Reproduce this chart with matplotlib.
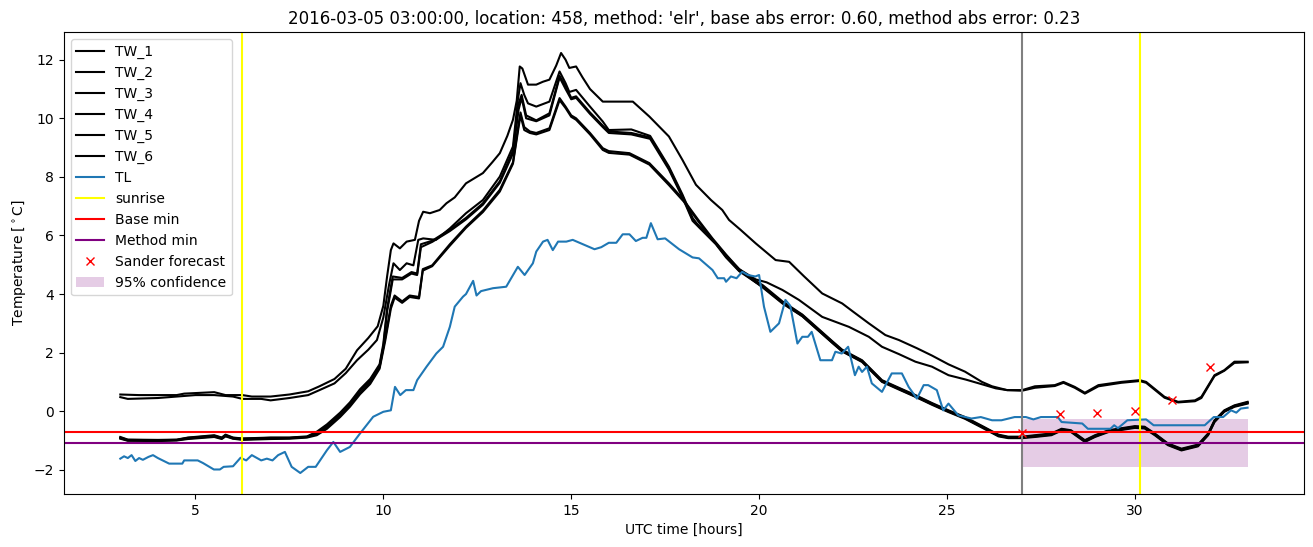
import matplotlib
matplotlib.use("Agg")
import matplotlib.pyplot as plt

# TW sensor temperatures (time in UTC hours, value in degC)
tw1_t = [3.0, 3.5, 4.0, 4.5, 4.7, 5.5, 5.8, 6.25, 6.5, 7.0, 7.5, 8.0, 8.3, 8.7, 9.0, 9.3, 9.6, 9.85,
         10.0, 10.1, 10.2, 10.27, 10.44, 10.62, 10.84, 10.95, 11.06, 11.24, 11.5, 11.68, 11.9, 12.2,
         12.65, 12.9, 13.1, 13.3, 13.45, 13.55, 13.63, 13.7, 13.85, 14.07, 14.25, 14.42, 14.6, 14.73,
         14.85, 14.95, 15.13, 15.3, 15.5, 15.84, 16.64, 17.08, 17.6, 17.96, 18.32, 18.72, 19.02, 19.2,
         19.5, 19.91, 20.44, 20.8, 21.2, 21.68, 22.21, 22.5, 22.92, 23.36, 23.72, 24.2, 24.6, 25.04,
         25.48, 25.93, 26.2, 26.6, 27.0, 27.34, 27.87, 28.1, 28.4, 28.67, 29.03, 29.64, 30.13, 30.3,
         30.79, 31.15, 31.6, 31.77, 32.12, 32.38, 32.65, 33.0]
tw1_v = [0.57, 0.55, 0.55, 0.55, 0.6, 0.65, 0.55, 0.55, 0.5, 0.5, 0.57, 0.68, 0.85, 1.1, 1.45, 2.08, 2.5, 2.9,
         3.6, 4.6, 5.5, 5.73, 5.56, 5.79, 5.85, 6.5, 6.81, 6.76, 6.87, 7.1, 7.3, 7.78,
         8.13, 8.5, 8.81, 9.4, 9.95, 10.6, 11.77, 11.7, 11.15, 11.15, 11.25, 11.32, 11.8, 12.23,
         12.0, 11.72, 11.77, 11.4, 11.0, 10.57, 10.57, 10.06, 9.38, 8.58, 7.73, 7.21, 6.87, 6.53,
         6.2, 5.73, 5.16, 5.1, 4.6, 4.02, 3.68, 3.4, 3.0, 2.6, 2.43, 2.15, 1.9, 1.6,
         1.35, 1.0, 0.85, 0.72, 0.72, 0.85, 0.89, 1.0, 0.83, 0.63, 0.89, 1.0, 1.06, 1.0,
         0.49, 0.32, 0.37, 0.49, 1.23, 1.4, 1.69, 1.69]

tw2_t = [3.0, 3.2, 4.0, 4.5, 5.0, 5.5, 6.0, 6.25, 6.75, 7.0, 7.5, 8.0, 8.3, 8.7, 9.0, 9.3, 9.6, 9.83,
         10.0, 10.15, 10.27, 10.44, 10.62, 10.8, 10.93, 11.06, 11.4, 11.77, 12.2, 12.65, 13.1, 13.45,
         13.58, 13.65, 13.75, 13.85, 14.07, 14.42, 14.69, 14.85, 14.95, 15.13, 15.5, 15.84, 16.0, 16.6,
         17.1, 17.6, 17.96, 18.23, 18.4, 18.85, 19.12, 19.47, 19.91, 20.2, 20.62, 21.06, 21.68, 22.39,
         22.92, 23.27, 23.72, 24.16, 24.6, 25.04, 25.5, 25.93, 26.3, 26.6, 27.0, 27.34, 27.87, 28.1,
         28.4, 28.67, 29.03, 29.64, 30.13, 30.3, 30.79, 31.15, 31.6, 31.77, 32.12, 32.38, 32.65, 33.0]
tw2_v = [0.48, 0.42, 0.45, 0.5, 0.55, 0.55, 0.5, 0.42, 0.42, 0.37, 0.45, 0.55, 0.72, 0.95, 1.3, 1.74, 2.1, 2.43,
         3.2, 4.3, 5.05, 4.82, 5.05, 4.98, 5.85, 5.9, 5.85, 6.24, 6.76, 7.21, 8.01, 9.04,
         10.63, 11.2, 10.8, 10.51, 10.4, 10.57, 11.6, 11.2, 10.9, 10.97, 10.4, 9.89, 9.6, 9.62,
         9.4, 8.35, 7.4, 6.6, 6.3, 5.73, 5.3, 4.85, 4.5, 4.4, 4.14, 3.8, 3.22, 2.88,
         2.54, 2.2, 1.95, 1.69, 1.52, 1.23, 1.08, 0.92, 0.78, 0.72, 0.7, 0.8, 0.86, 0.97,
         0.8, 0.6, 0.85, 0.97, 1.03, 0.97, 0.46, 0.3, 0.34, 0.45, 1.2, 1.38, 1.65, 1.67]

tw3_t = [3.0, 3.2, 4.0, 4.5, 4.8, 5.5, 5.7, 5.8, 6.0, 6.25, 6.5, 7.0, 7.5, 7.97, 8.23, 8.5, 8.85, 9.11,
         9.38, 9.65, 9.9, 10.0, 10.1, 10.25, 10.5, 10.75, 10.9, 11.0, 11.3, 11.77, 12.2, 12.65, 13.1,
         13.45, 13.6, 13.68, 13.8, 14.07, 14.42, 14.69, 14.85, 15.0, 15.13, 15.5, 15.84, 16.0, 16.6,
         17.1, 17.6, 17.96, 18.23, 18.5, 18.85, 19.12, 19.47, 19.91, 20.1, 20.62, 21.15, 21.94, 22.21,
         22.74, 23.27, 23.72, 24.16, 24.6, 25.04, 25.48, 25.93, 26.37, 26.63, 27.0, 27.34, 27.78, 28.05,
         28.3, 28.67, 28.94, 29.3, 30.0, 30.26, 30.53, 30.88, 31.24, 31.68, 31.95, 32.12, 32.38, 32.65, 33.0]
tw3_v = [-0.88, -0.97, -0.98, -0.97, -0.9, -0.82, -0.9, -0.8, -0.9, -0.93, -0.92, -0.9, -0.9, -0.86, -0.7, -0.45, -0.05, 0.3,
         0.75, 1.1, 1.6, 2.3, 3.5, 4.6, 4.55, 4.75, 4.7, 5.7, 5.82, 6.2, 6.6, 7.1, 7.85,
         8.9, 10.5, 10.8, 10.1, 9.93, 10.17, 11.45, 11.1, 10.7, 10.75, 10.2, 9.75, 9.55, 9.5,
         9.35, 8.3, 7.35, 6.55, 6.2, 5.73, 5.28, 4.8, 4.45, 4.3, 3.75, 3.3, 2.4, 2.1,
         1.74, 1.06, 0.8, 0.55, 0.28, 0.03, -0.2, -0.5, -0.8, -0.87, -0.87, -0.82, -0.76, -0.6,
         -0.65, -0.99, -0.82, -0.65, -0.51, -0.53, -0.76, -1.1, -1.28, -1.14, -0.76, -0.31, 0.03, 0.2, 0.32]

tw4_t = tw3_t
tw4_v = [-0.92, -1.0, -1.0, -0.99, -0.93, -0.86, -0.93, -0.84, -0.93, -0.96, -0.95, -0.93, -0.92, -0.88, -0.74, -0.5, -0.1, 0.25,
         0.7, 1.05, 1.55, 2.2, 3.4, 4.5, 4.5, 4.7, 4.65, 5.6, 5.78, 6.15, 6.55, 7.05, 7.8,
         8.8, 10.3, 10.7, 10.0, 9.9, 10.1, 11.4, 11.0, 10.65, 10.7, 10.15, 9.7, 9.5, 9.45,
         9.3, 8.25, 7.3, 6.5, 6.15, 5.7, 5.25, 4.78, 4.4, 4.25, 3.7, 3.25, 2.35, 2.05,
         1.7, 1.02, 0.76, 0.5, 0.24, -0.01, -0.24, -0.54, -0.84, -0.9, -0.9, -0.86, -0.8, -0.64,
         -0.69, -1.03, -0.86, -0.69, -0.55, -0.57, -0.8, -1.14, -1.32, -1.18, -0.8, -0.35, 0.0, 0.17, 0.28]

tw5_t = [3.0, 3.2, 4.0, 4.5, 4.8, 5.5, 5.7, 5.8, 6.0, 6.25, 6.5, 7.0, 7.5, 7.97, 8.23, 8.5, 8.85, 9.11,
         9.38, 9.65, 9.9, 10.05, 10.2, 10.3, 10.5, 10.7, 10.95, 11.05, 11.3, 11.77, 12.2, 12.65, 13.1,
         13.45, 13.6, 13.65, 13.75, 13.9, 14.07, 14.42, 14.69, 14.85, 15.0, 15.13, 15.5, 15.84, 16.0,
         16.55, 17.08, 17.6, 18.0, 18.4, 18.76, 19.12, 19.47, 19.91, 20.1, 20.62, 21.15, 21.94, 22.21,
         22.74, 23.27, 23.72, 24.16, 24.6, 25.04, 25.48, 25.93, 26.37, 26.63, 27.0, 27.34, 27.78, 28.05,
         28.3, 28.67, 28.94, 29.3, 30.0, 30.26, 30.53, 30.88, 31.24, 31.68, 31.95, 32.12, 32.38, 32.65, 33.0]
tw5_v = [-0.9, -0.98, -0.99, -0.98, -0.91, -0.84, -0.91, -0.82, -0.91, -0.94, -0.93, -0.91, -0.91, -0.88, -0.78, -0.55, -0.15, 0.2,
         0.62, 0.98, 1.5, 2.5, 3.6, 3.95, 3.75, 3.95, 3.9, 4.85, 4.98, 5.7, 6.3, 6.85, 7.56,
         8.5, 9.8, 10.2, 9.7, 9.55, 9.5, 9.66, 10.69, 10.4, 10.1, 10.0, 9.5, 8.98, 8.88,
         8.81, 8.47, 7.78, 7.2, 6.5, 5.9, 5.35, 4.85, 4.42, 4.25, 3.72, 3.28, 2.38, 2.08,
         1.72, 1.04, 0.78, 0.53, 0.26, 0.01, -0.22, -0.52, -0.82, -0.89, -0.89, -0.84, -0.78, -0.62,
         -0.67, -1.01, -0.84, -0.67, -0.53, -0.55, -0.78, -1.12, -1.3, -1.16, -0.78, -0.33, 0.01, 0.18, 0.3]

tw6_t = tw5_t
tw6_v = [-0.94, -1.01, -1.02, -1.0, -0.95, -0.88, -0.95, -0.86, -0.94, -0.98, -0.97, -0.95, -0.94, -0.9, -0.82, -0.6, -0.2, 0.15,
         0.58, 0.93, 1.45, 2.4, 3.5, 3.88, 3.7, 3.9, 3.85, 4.8, 4.95, 5.65, 6.26, 6.8, 7.5,
         8.45, 9.7, 10.1, 9.6, 9.5, 9.45, 9.6, 10.62, 10.35, 10.05, 9.95, 9.45, 8.92, 8.82,
         8.76, 8.42, 7.72, 7.15, 6.45, 5.86, 5.32, 4.82, 4.4, 4.22, 3.68, 3.24, 2.34, 2.04,
         1.68, 1.0, 0.74, 0.49, 0.22, -0.03, -0.26, -0.56, -0.86, -0.92, -0.92, -0.88, -0.82, -0.66,
         -0.71, -1.05, -0.88, -0.71, -0.57, -0.59, -0.82, -1.16, -1.34, -1.2, -0.82, -0.37, -0.02, 0.15, 0.26]

# TL air temperature
tl_t = [3.0, 3.1, 3.2, 3.3, 3.4, 3.5, 3.6, 3.75, 3.87, 4.0, 4.3, 4.65, 4.7, 5.06, 5.2, 5.49, 5.65, 5.75,
        6.0, 6.2, 6.35, 6.5, 6.75, 6.9, 7.05, 7.2, 7.38, 7.56, 7.79, 8.0, 8.2, 8.5, 8.67, 8.85, 9.11,
        9.38, 9.73, 10.0, 10.2, 10.31, 10.45, 10.6, 10.8, 10.9, 11.15, 11.41, 11.59, 11.77, 11.9, 12.12,
        12.2, 12.39, 12.48, 12.6, 12.92, 13.27, 13.58, 13.76, 13.98, 14.07, 14.25, 14.37, 14.51, 14.65,
        14.87, 15.04, 15.22, 15.4, 15.62, 15.8, 16.0, 16.2, 16.37, 16.55, 16.72, 16.9, 17.0, 17.12,
        17.3, 17.5, 17.87, 18.23, 18.4, 18.76, 18.9, 19.07, 19.12, 19.25, 19.4, 19.55, 19.7, 19.9,
        20.0, 20.13, 20.3, 20.53, 20.7, 20.83, 21.02, 21.15, 21.3, 21.4, 21.63, 21.94, 22.03, 22.2,
        22.37, 22.55, 22.65, 22.74, 22.87, 23.0, 23.27, 23.53, 23.8, 23.98, 24.2, 24.38, 24.5, 24.73,
        24.9, 25.04, 25.3, 25.65, 25.9, 26.2, 26.45, 26.8, 27.1, 27.3, 27.5, 27.95, 28.05, 28.6,
        28.75, 29.35, 29.45, 29.55, 29.8, 30.3, 30.5, 31.86, 32.1, 32.35, 32.56, 32.7, 32.82, 33.0]
tl_v = [-1.62, -1.54, -1.6, -1.5, -1.7, -1.6, -1.66, -1.56, -1.5, -1.6, -1.79, -1.79, -1.68, -1.68, -1.77, -1.99, -1.99, -1.9,
        -1.88, -1.59, -1.68, -1.5, -1.68, -1.62, -1.68, -1.5, -1.39, -1.9, -2.11, -1.9, -1.9, -1.33, -1.05, -1.39, -1.22,
        -0.76, -0.19, -0.02, 0.03, 0.83, 0.55, 0.72, 0.72, 1.06, 1.52, 1.97, 2.2, 2.88, 3.57, 3.91,
        4.0, 4.45, 3.95, 4.1, 4.2, 4.25, 4.93, 4.65, 5.05, 5.45, 5.79, 5.85, 5.5, 5.79,
        5.79, 5.85, 5.75, 5.65, 5.53, 5.6, 5.75, 5.75, 6.04, 6.04, 5.81, 5.92, 5.92, 6.42,
        5.87, 5.9, 5.53, 5.25, 5.22, 4.82, 4.54, 4.54, 4.42, 4.6, 4.54, 4.76, 4.65, 4.6,
        4.65, 3.57, 2.71, 3.0, 3.8, 3.6, 2.31, 2.54, 2.54, 2.71, 1.74, 1.74, 2.03, 1.97,
        2.2, 1.23, 1.52, 1.34, 1.52, 0.95, 0.66, 1.29, 1.29, 0.83, 0.43, 0.89, 0.89, 0.72,
        0.03, 0.26, -0.14, -0.25, -0.2, -0.31, -0.31, -0.2, -0.2, -0.28, -0.2, -0.2, -0.37, -0.42,
        -0.6, -0.6, -0.48, -0.58, -0.31, -0.28, -0.48, -0.48, -0.2, -0.2, 0.03, -0.05, 0.09, 0.12]

sunrise_hours = [6.25, 30.15]
forecast_start = 27.0
base_min = -0.7
method_min = -1.08
sander_t = [27, 28, 29, 30, 31, 32]
sander_v = [-0.74, -0.11, -0.06, 0.0, 0.38, 1.52]
conf_t = [27.0, 33.0]
conf_low = [-1.9, -1.9]
conf_high = [-0.27, -0.27]

fig = plt.figure(figsize=(13.13, 5.47), dpi=100)
ax = fig.add_axes([0.0487, 0.0969, 0.9444, 0.8446])

tw_series = [(tw1_t, tw1_v), (tw2_t, tw2_v), (tw3_t, tw3_v),
             (tw4_t, tw4_v), (tw5_t, tw5_v), (tw6_t, tw6_v)]
for i, (t, v) in enumerate(tw_series):
    ax.plot(t, v, color="black", label="TW_%d" % (i + 1))
ax.plot(tl_t, tl_v, color="C0", label="TL")

for i, h in enumerate(sunrise_hours):
    ax.axvline(h, color="yellow", label="sunrise" if i == 0 else None)
ax.axvline(forecast_start, color="gray")
ax.axhline(base_min, color="red", label="Base min")
ax.axhline(method_min, color="purple", label="Method min")
ax.plot(sander_t, sander_v, "x", color="red", label="Sander forecast")
ax.fill_between(conf_t, conf_low, conf_high, color="purple", alpha=0.2,
                linewidth=0, label="95% confidence")

ax.set_title("2016-03-05 03:00:00, location: 458, method: 'elr', base abs error: 0.60, method abs error: 0.23")
ax.set_xlabel("UTC time [hours]")
ax.set_ylabel(r"Temperature [$^\circ$C]")
ax.legend(loc="upper left")

fig.savefig("out.png", dpi=100)
